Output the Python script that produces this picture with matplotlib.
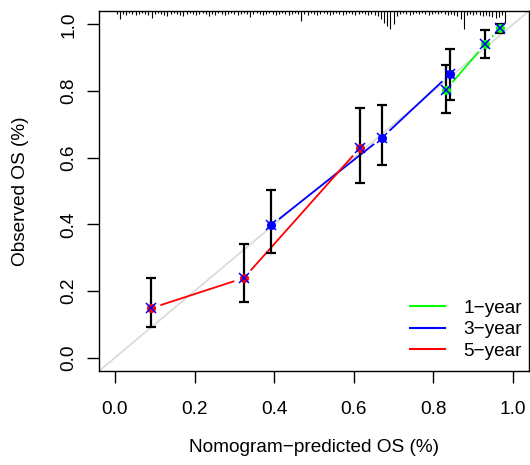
import numpy as np
import matplotlib
matplotlib.use("Agg")
import matplotlib.pyplot as plt
from matplotlib.lines import Line2D

plt.rcParams['font.family'] = ['Liberation Sans', 'DejaVu Sans']

# ---- data ----
years = ["1-year", "3-year", "5-year"]
colors = ["#00FF00", "#0000FF", "#FF0000"]

pred_1y = [0.831, 0.930, 0.968]
obs_1y = [0.803, 0.941, 0.989]
lo_1y = [0.735, 0.898, 0.975]
hi_1y = [0.878, 0.982, 1.000]

pred_3y = [0.392, 0.671, 0.841]
obs_3y = [0.397, 0.660, 0.850]
lo_3y = [0.315, 0.579, 0.773]
hi_3y = [0.504, 0.758, 0.925]

pred_5y = [0.090, 0.324, 0.615]
obs_5y = [0.148, 0.239, 0.629]
lo_5y = [0.092, 0.167, 0.524]
hi_5y = [0.238, 0.342, 0.749]

# distribution of predicted values (rug at top), bin width 0.008 starting at 0.004
rug_bin = 0.008
rug_start = 0.004
rug_counts = [3, 8, 3, 4, 2, 3, 4, 3, 2, 3, 4, 7, 3, 2, 3, 4, 5, 3, 2, 3,
              4, 5, 3, 2, 3, 4, 3, 2, 3, 5, 3, 4, 2, 3, 4, 3, 2, 3, 4, 3,
              2, 3, 6, 3, 2, 3, 4, 3, 2, 3, 4, 3, 2, 3, 4, 3, 2, 3, 10, 3,
              4, 2, 3, 4, 3, 2, 3, 4, 3, 2, 3, 4, 3, 2, 3, 4, 3, 2, 3, 4,
              3, 4, 5, 8, 12, 15, 18, 13, 5, 3, 2, 3, 4, 3, 2, 3, 2, 3, 4, 3,
              2, 3, 2, 3, 4, 3, 4, 5, 8, 18, 4, 3, 4, 3, 4, 5, 4, 5, 6, 7,
              6, 4, 12]

xticks = [0.0, 0.2, 0.4, 0.6, 0.8, 1.0]
yticks = [0.0, 0.2, 0.4, 0.6, 0.8, 1.0]

series = [
    (pred_1y, obs_1y, lo_1y, hi_1y),
    (pred_3y, obs_3y, lo_3y, hi_3y),
    (pred_5y, obs_5y, lo_5y, hi_5y),
]

W, H = 530, 465
fig = plt.figure(figsize=(W / 100, H / 100), dpi=100)
ax = fig.add_axes([99 / W, (H - 371) / H, 430 / W, 360 / H])
ax.set_xlim(-0.04, 1.04)
ax.set_ylim(-0.04, 1.04)

# reference diagonal
ax.plot([-0.04, 1.04], [-0.04, 1.04], color="#d9d9d9", lw=1.2, zorder=1)

# rug at top
rug_x = rug_start + rug_bin * np.arange(len(rug_counts))
px_per_unit = 360 / 1.08
rug_h = np.array(rug_counts) / px_per_unit
ax.vlines(rug_x, 1.04 - rug_h, 1.04, color="black", lw=0.8, zorder=2)

fig.canvas.draw()
gap = 11  # pixels of gap around points (type="b")

def gapped_segments(xs, ys):
    pts = ax.transData.transform(np.column_stack([xs, ys]))
    segs = []
    for a, b in zip(pts[:-1], pts[1:]):
        d = b - a
        L = np.hypot(*d)
        if L <= 2 * gap:
            continue
        u = d / L
        p0 = a + u * gap
        p1 = b - u * gap
        segs.append(ax.transData.inverted().transform(np.vstack([p0, p1])))
    return segs

for (px, ob, lo, hi), c in zip(series, colors):
    for seg in gapped_segments(px, ob):
        ax.plot(seg[:, 0], seg[:, 1], color=c, lw=1.3, zorder=3)
    ax.errorbar(px, ob, yerr=[np.array(ob) - np.array(lo), np.array(hi) - np.array(ob)],
                fmt="none", ecolor="black", elinewidth=1.6, capsize=3.5, capthick=1.6, zorder=4)
    ax.plot(px, ob, "o", color=c, ms=5.5, mec=c, zorder=5)
    ax.plot(px, ob, "x", color="#0000FF", ms=7, mew=1.1, zorder=6)

# axes styling
for s in ax.spines.values():
    s.set_linewidth(1.0)
    s.set_color("black")
ax.set_xticks(xticks)
ax.set_xticklabels([f"{t:.1f}" for t in xticks])
ax.set_yticks(yticks)
ax.set_yticklabels([f"{t:.1f}" for t in yticks], rotation=90, va="center")
ax.tick_params(axis="both", direction="out", length=8.6, width=1.0, labelsize=13.7)
ax.tick_params(axis="x", pad=13)
ax.tick_params(axis="y", pad=7)

fig.text(314 / W, 1 - 447 / H, "Nomogram\u2212predicted OS (%)", ha="center", va="center", fontsize=13.7)
fig.text(21 / W, 1 - 191 / H, "Observed OS (%)", ha="center", va="center", rotation=90, fontsize=13.7)

handles = [Line2D([0], [0], color=c, lw=1.5) for c in colors]
leg = ax.legend(handles, ["1\u2212year", "3\u2212year", "5\u2212year"], loc="lower left",
                bbox_to_anchor=(410 / W, 1 - 360 / H), bbox_transform=fig.transFigure,
                frameon=False, fontsize=13.7, handlelength=1.85, handletextpad=0.95,
                labelspacing=0.22, borderpad=0, borderaxespad=0)

fig.savefig("out.png", dpi=100)
